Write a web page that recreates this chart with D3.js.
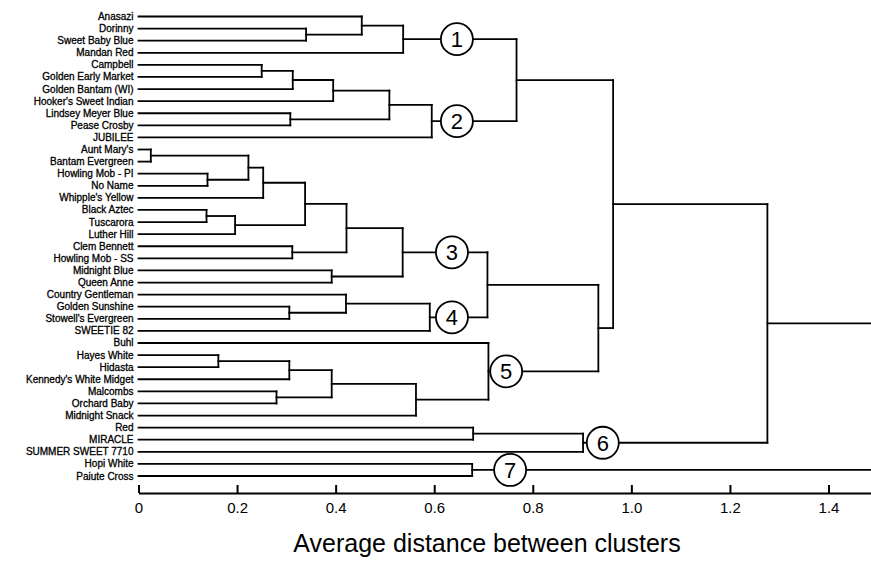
<!DOCTYPE html>
<html>
<head>
<meta charset="utf-8">
<script src="https://cdn.jsdelivr.net/npm/d3@7"></script>
<style>
  html, body { margin: 0; padding: 0; background: #fff; }
  svg { display: block; }
</style>
</head>
<body>
<svg id="chart" width="871" height="565"></svg>
<script>
// ---- DATA ----
const leaves = [
  "Anasazi", "Dorinny", "Sweet Baby Blue", "Mandan Red", "Campbell",
  "Golden Early Market", "Golden Bantam (WI)", "Hooker's Sweet Indian",
  "Lindsey Meyer Blue", "Pease Crosby", "JUBILEE", "Aunt Mary's",
  "Bantam Evergreen", "Howling Mob - PI", "No Name", "Whipple's Yellow",
  "Black Aztec", "Tuscarora", "Luther Hill", "Clem Bennett",
  "Howling Mob - SS", "Midnight Blue", "Queen Anne", "Country Gentleman",
  "Golden Sunshine", "Stowell's Evergreen", "SWEETIE 82", "Buhl",
  "Hayes White", "Hidasta", "Kennedy's White Midget", "Malcombs",
  "Orchard Baby", "Midnight Snack", "Red", "MIRACLE", "SUMMER SWEET 7710",
  "Hopi White", "Paiute Cross"
];

// merges: [childA, childB, height]; a number refers to an earlier merge index
const merges = [
  ["Dorinny", "Sweet Baby Blue", 0.340],          // 0
  ["Anasazi", 0, 0.453],                          // 1
  [1, "Mandan Red", 0.537],                       // 2  cluster 1
  ["Campbell", "Golden Early Market", 0.250],     // 3
  [3, "Golden Bantam (WI)", 0.313],               // 4
  [4, "Hooker's Sweet Indian", 0.395],            // 5
  ["Lindsey Meyer Blue", "Pease Crosby", 0.308],  // 6
  [5, 6, 0.509],                                  // 7
  [7, "JUBILEE", 0.595],                          // 8  cluster 2
  [2, 8, 0.767],                                  // 9
  ["Aunt Mary's", "Bantam Evergreen", 0.025],     // 10
  ["Howling Mob - PI", "No Name", 0.140],         // 11
  [10, 11, 0.223],                                // 12
  [12, "Whipple's Yellow", 0.253],                // 13
  ["Black Aztec", "Tuscarora", 0.138],            // 14
  [14, "Luther Hill", 0.196],                     // 15
  [13, 15, 0.338],                                // 16
  ["Clem Bennett", "Howling Mob - SS", 0.312],    // 17
  [16, 17, 0.422],                                // 18
  ["Midnight Blue", "Queen Anne", 0.392],         // 19
  [18, 19, 0.536],                                // 20 cluster 3
  ["Golden Sunshine", "Stowell's Evergreen", 0.306], // 21
  ["Country Gentleman", 21, 0.421],               // 22
  [22, "SWEETIE 82", 0.591],                      // 23 cluster 4
  [20, 23, 0.708],                                // 24
  ["Hayes White", "Hidasta", 0.162],              // 25
  [25, "Kennedy's White Midget", 0.306],          // 26
  ["Malcombs", "Orchard Baby", 0.280],            // 27
  [26, 27, 0.392],                                // 28
  [28, "Midnight Snack", 0.563],                  // 29
  ["Buhl", 29, 0.710],                            // 30 cluster 5
  [24, 30, 0.933],                                // 31
  [9, 31, 0.963],                                 // 32
  ["Red", "MIRACLE", 0.679],                      // 33
  [33, "SUMMER SWEET 7710", 0.902],               // 34 cluster 6
  [32, 34, 1.276],                                // 35
  ["Hopi White", "Paiute Cross", 0.677],          // 36 cluster 7
  [35, 36, 1.600]                                 // 37 (beyond the axis)
];

const clusterLabels = ["1", "2", "3", "4", "5", "6", "7"];
const clusterMerge  = [2, 8, 20, 23, 30, 34, 36];
const clusterLabelAt = [0.646, 0.646, 0.636, 0.636, 0.746, 0.942, 0.754];

const tickValues = [0, 0.2, 0.4, 0.6, 0.8, 1.0, 1.2, 1.4];
const tickLabels = ["0", "0.2", "0.4", "0.6", "0.8", "1.0", "1.2", "1.4"];
const axisTitle = "Average distance between clusters";

// ---- LAYOUT ----
const W = 871, H = 565;
const svg = d3.select("#chart");
const FONT = "'Liberation Sans', Arial, Helvetica, sans-serif";

const x = d3.scaleLinear().domain([0, 1.4]).range([138.5, 828.5]);
const y = d3.scalePoint().domain(leaves).range([16.5, 476]);

// node positions
const nodeH = merges.map(m => m[2]);
const nodeY = [];
function hOf(c) { return typeof c === "number" ? nodeH[c] : 0; }
function yOf(c) { return typeof c === "number" ? nodeY[c] : y(c); }
merges.forEach((m, i) => { nodeY[i] = (yOf(m[0]) + yOf(m[1])) / 2; });

// build segments
const segs = [];
merges.forEach((m, i) => {
  const xm = x(m[2]);
  [m[0], m[1]].forEach(c => {
    segs.push({x1: x(hOf(c)), y1: yOf(c), x2: xm, y2: yOf(c)});
  });
  segs.push({x1: xm, y1: yOf(m[0]), x2: xm, y2: yOf(m[1])});
});

const g = svg.append("g");
g.selectAll("line.seg").data(segs).join("line")
  .attr("class", "seg")
  .attr("x1", d => d.x1).attr("y1", d => d.y1)
  .attr("x2", d => d.x2).attr("y2", d => d.y2)
  .attr("stroke", "#000").attr("stroke-width", 1.8)
  .attr("stroke-linecap", "square");

// leaf labels
svg.append("g").selectAll("text").data(leaves).join("text")
  .attr("x", x(0) - 5)
  .attr("y", d => y(d))
  .attr("dy", "0.35em")
  .attr("text-anchor", "end")
  .attr("font-family", FONT)
  .attr("font-size", 10)
  .attr("fill", "#000")
  .attr("stroke", "#000").attr("stroke-width", 0.3)
  .text(d => d);

// cluster circles
const cl = svg.append("g").selectAll("g").data(clusterLabels).join("g")
  .attr("transform", (d, i) => `translate(${x(clusterLabelAt[i])},${nodeY[clusterMerge[i]]})`);
cl.append("circle").attr("r", 16)
  .attr("fill", "#fff").attr("stroke", "#000").attr("stroke-width", 1.8);
cl.append("text")
  .attr("text-anchor", "middle").attr("dy", "0.36em")
  .attr("font-family", FONT).attr("font-size", 22)
  .attr("fill", "#000")
  .text(d => d);

// axis
const xa = d3.scaleLinear().domain([0, x.invert(W)]).range([x(0), W]);
const axis = d3.axisBottom(xa)
  .tickValues(tickValues)
  .tickFormat((d, i) => tickLabels[i])
  .tickSize(-8).tickSizeOuter(0).tickPadding(9);
const ag = svg.append("g").attr("transform", "translate(0,493)").call(axis);
ag.select(".domain").attr("stroke", "#000").attr("stroke-width", 2);
ag.selectAll(".tick line").attr("stroke", "#000").attr("stroke-width", 2);
ag.selectAll(".tick text").attr("font-family", FONT).attr("font-size", 15).attr("fill", "#000");

svg.append("text")
  .attr("x", 487).attr("y", 552)
  .attr("text-anchor", "middle")
  .attr("font-family", FONT).attr("font-size", 25)
  .attr("fill", "#000")
  .text(axisTitle);
</script>
</body>
</html>
